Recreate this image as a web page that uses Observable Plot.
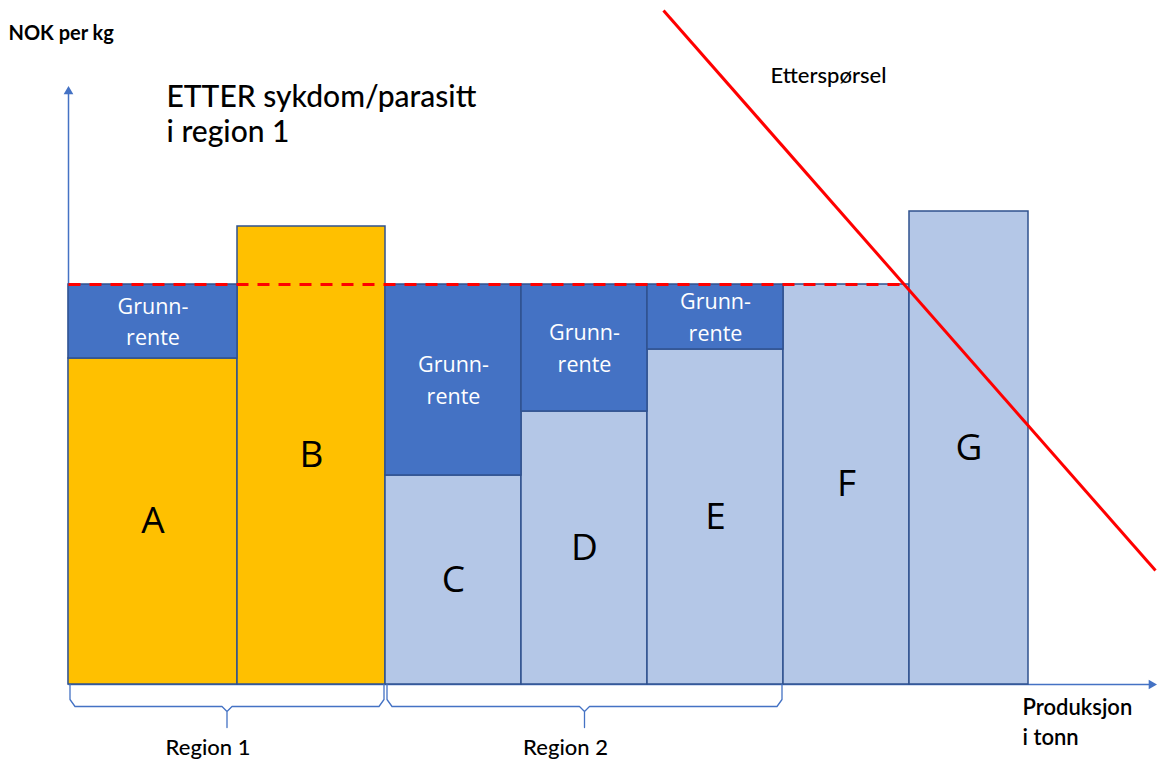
<!DOCTYPE html>
<html>
<head>
<meta charset="utf-8">
<script src="https://cdn.jsdelivr.net/npm/d3@7"></script>
<script src="https://cdn.jsdelivr.net/npm/@observablehq/plot@0.6"></script>
<style>
  html, body { margin: 0; padding: 0; background: #fff; }
  #chart svg { display: block; }
</style>
</head>
<body>
<div id="chart"></div>
<script>
// ---- Data (quantity in tonn-units, cost in NOK per kg units) ----
const producers  = ["A", "B", "C", "D", "E", "F", "G"];
const quantity   = [16.9, 14.8, 13.6, 12.6, 13.6, 12.6, 11.9];
const unitCost   = [32.6, 45.8, 20.9, 27.3, 33.5, 40.0, 47.3];
const region     = ["Region 1", "Region 1", "Region 2", "Region 2", "Region 2", "", ""];
const hasRent    = [true, false, true, true, true, false, false];
const marketPrice = 40;
const demandQ = [59.5, 108.7];
const demandP = [67.4, 11.4];
const regionNames = ["Region 1", "Region 2"];
const rentLabel = "Grunn-\nrente";
const yAxisLabel = "NOK per kg";
const xAxisLabel = "Produksjon\ni tonn";
const titleText = "ETTER sykdom/parasitt\ni region 1";
const demandLabel = "Etterspørsel";
const axisMax = { x: 108.9, y: 59.9 };

// ---- Derived table ----
let cum = 0;
const bars = producers.map((p, i) => {
  const x1 = cum; cum += quantity[i];
  return { p, x1, x2: cum, cost: unitCost[i], region: region[i], rent: hasRent[i] };
});
const rents = bars.filter(d => d.rent);
const regionSpans = regionNames.map(r => {
  const bs = bars.filter(b => b.region === r);
  return { name: r, x1: bs[0].x1, x2: bs[bs.length - 1].x2 };
});
// equilibrium quantity where demand meets the market price
const qStar = demandQ[0] + (demandP[0] - marketPrice) * (demandQ[1] - demandQ[0]) / (demandP[0] - demandP[1]);

// brace paths
const braceDepth = 2.2, braceTip = 4.3;
const braces = regionSpans.flatMap(s => {
  const a = s.x1 + 0.15, b = s.x2 - 0.15, c = (s.x1 + s.x2) / 2;
  const pts = [
    [a, 0], [a, -1.5], [a + 0.5, -braceDepth],
    [c - 0.5, -braceDepth], [c, -braceDepth - 0.5], [c, -braceTip],
    [c, -braceDepth - 0.5], [c + 0.5, -braceDepth],
    [b - 0.5, -braceDepth], [b, -1.5], [b, 0]
  ];
  return pts.map(([x, y], k) => ({ name: s.name, x, y, k }));
});

const ORANGE = "#FFC000", LIGHT = "#B4C7E7", DARK = "#4472C4", EDGE = "#2F528F", RED = "#FF0000";
const sans = "Lato, 'Open Sans', sans-serif";

const chart = Plot.plot({
  width: 1157,
  height: 763,
  margin: 0,
  x: { domain: [-6.8, 108.9], axis: null },
  y: { domain: [-7.9, 68.4], axis: null },
  style: { fontFamily: sans, background: "white" },
  marks: [
    // axes
    Plot.link([{}], { x1: 0, y1: 0, x2: axisMax.x - 0.5, y2: 0, stroke: DARK, strokeWidth: 1.5 }),
    Plot.link([{}], { x1: 0, y1: 0, x2: 0, y2: axisMax.y - 0.6, stroke: DARK, strokeWidth: 1.5 }),
    Plot.dot([{}], { x: 0, y: axisMax.y - 0.6, symbol: "triangle", r: 3.6, fill: DARK, stroke: null }),
    Plot.dot([{}], { x: axisMax.x - 0.6, y: 0, symbol: "triangle", r: 3.6, fill: DARK, stroke: null, rotate: 90 }),
    // cost bars
    Plot.rect(bars, {
      x1: "x1", x2: "x2", y1: 0, y2: "cost",
      fill: d => d.region === "Region 1" ? ORANGE : LIGHT,
      stroke: EDGE, strokeWidth: 1.5
    }),
    // resource rent (grunnrente)
    Plot.rect(rents, {
      x1: "x1", x2: "x2", y1: "cost", y2: marketPrice,
      fill: DARK, stroke: EDGE, strokeWidth: 1.5
    }),
    Plot.text(rents, {
      x: d => (d.x1 + d.x2) / 2, y: d => (d.cost + marketPrice) / 2 + 0.2,
      text: () => rentLabel, fill: "white", fontSize: 21.5, lineHeight: 1.45,
      fontFamily: "'Open Sans', sans-serif"
    }),
    // producer letters
    Plot.text(bars, {
      x: d => (d.x1 + d.x2) / 2, y: d => d.cost / 2,
      text: "p", fill: "black", fontSize: 37, fontFamily: "'Open Sans', sans-serif"
    }),
    // market price dashed line
    Plot.link([{}], { x1: 0, y1: marketPrice, x2: qStar, y2: marketPrice, stroke: RED, strokeWidth: 3, strokeDasharray: "12,9" }),
    // demand
    Plot.link([{}], { x1: demandQ[0], y1: demandP[0], x2: demandQ[1], y2: demandP[1], stroke: RED, strokeWidth: 3 }),
    // braces
    Plot.line(braces, { x: "x", y: "y", z: "name", stroke: DARK, strokeWidth: 1.3 }),
    Plot.text(regionSpans, {
      x: d => (d.x1 + d.x2) / 2 - 1.9, y: -6.3, text: "name", fontSize: 22, fontWeight: 500, fill: "black"
    }),
    // labels
    Plot.text([yAxisLabel], { x: -6.0, y: 65.1, text: d => d, textAnchor: "start", fontSize: 20, fontWeight: "bold", fill: "black" }),
    Plot.text([titleText], { x: 9.8, y: 57.15, text: d => d, textAnchor: "start", fontSize: 30, lineHeight: 1.17, fontWeight: 500, fill: "black" }),
    Plot.text([demandLabel], { x: 76.0, y: 60.9, text: d => d, fontSize: 22, fontWeight: 500, fill: "black" }),
    Plot.text([xAxisLabel], { x: 95.4, y: -3.6, text: d => d, textAnchor: "start", fontSize: 22, lineHeight: 1.36, fontWeight: 600, fill: "black" })
  ]
});
document.getElementById("chart").appendChild(chart);
</script>
</body>
</html>
